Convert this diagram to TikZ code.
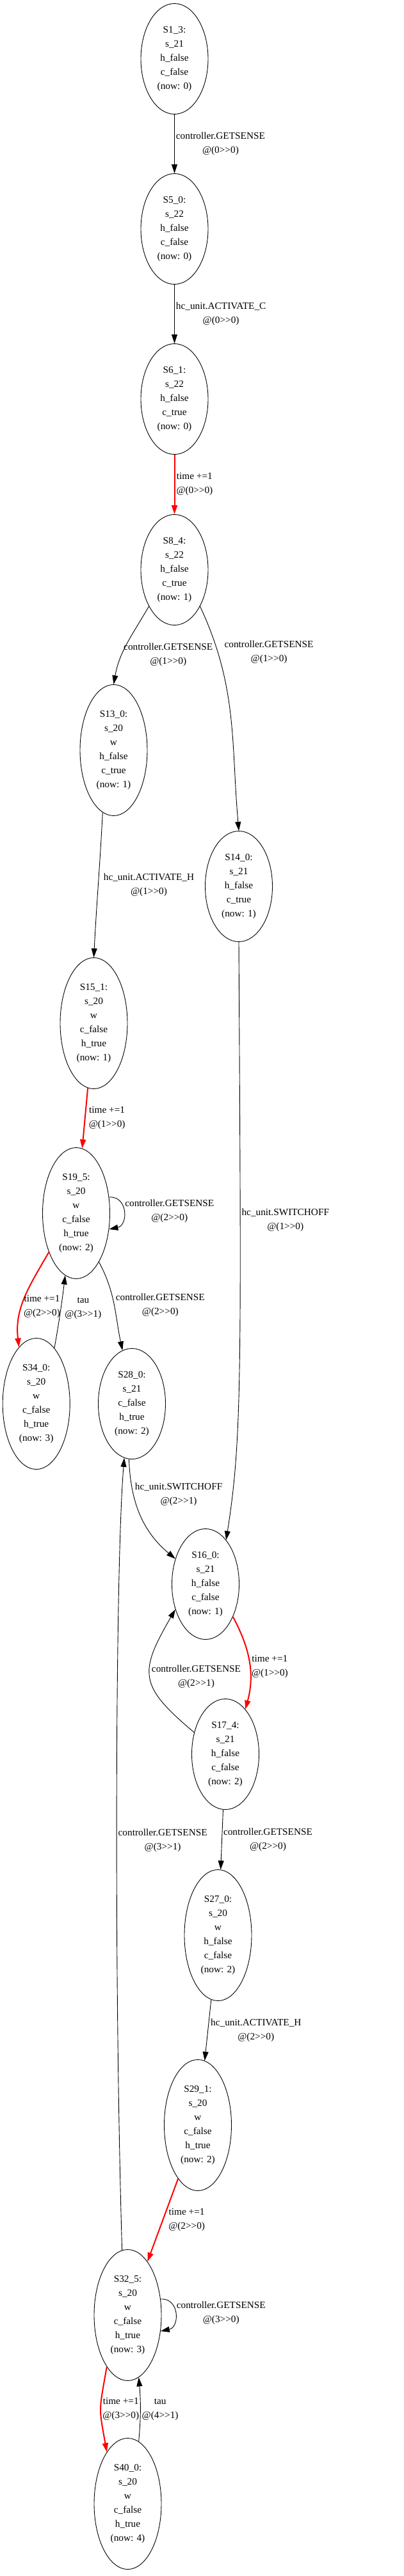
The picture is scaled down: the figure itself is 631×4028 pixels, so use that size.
\documentclass[tikz,border=0pt]{standalone}
\usepackage{fontspec}
\setmainfont{Liberation Serif}[Ligatures=TeXOff]
\usetikzlibrary{shapes.geometric,arrows.meta}

\begin{document}
\begin{tikzpicture}[x=1pt,y=1pt,>={Triangle[length=14pt,width=9pt]},
    state/.style={draw,ellipse,line width=0.9pt,inner sep=0pt,
        minimum width=105pt,minimum height=173pt,align=center,
        font=\fontsize{15.3}{22}\selectfont},
    tall/.style={minimum height=205pt},
    lbl/.style={align=center,inner sep=2pt,text=black,
        font=\fontsize{15.3}{22}\selectfont},
    trans/.style={->,line width=0.9pt},
    timed/.style={->,red,line width=2pt}]

    \fill[white] (0,0) rectangle (631,-4028);
    \useasboundingbox (0,0) rectangle (631,-4028);

    % states, top to bottom
    \node[state] (st1) at (272.5,-92) {S1\_3:\\s\_21\\h\_false\\c\_false\\(now: 0)};
    \node[state] (st5) at (272.5,-358) {S5\_0:\\s\_22\\h\_false\\c\_false\\(now: 0)};
    \node[state] (st6) at (272.5,-624) {S6\_1:\\s\_22\\h\_false\\c\_true\\(now: 0)};
    \node[state] (st8) at (272.5,-891) {S8\_4:\\s\_22\\h\_false\\c\_true\\(now: 1)};
    \node[state,tall] (st13) at (177.5,-1173) {S13\_0:\\s\_20\\w\\h\_false\\c\_true\\(now: 1)};
    \node[state] (st14) at (373,-1386) {S14\_0:\\s\_21\\h\_false\\c\_true\\(now: 1)};
    \node[state,tall] (st15) at (146.5,-1600) {S15\_1:\\s\_20\\w\\c\_false\\h\_true\\(now: 1)};
    \node[state,tall] (st19) at (119,-1897) {S19\_5:\\s\_20\\w\\c\_false\\h\_true\\(now: 2)};
    \node[state,tall] (st34) at (56.7,-2195) {S34\_0:\\s\_20\\w\\c\_false\\h\_true\\(now: 3)};
    \node[state] (st28) at (206,-2195) {S28\_0:\\s\_21\\c\_false\\h\_true\\(now: 2)};
    \node[state] (st16) at (321,-2477) {S16\_0:\\s\_21\\h\_false\\c\_false\\(now: 1)};
    \node[state] (st17) at (352,-2743) {S17\_4:\\s\_21\\h\_false\\c\_false\\(now: 2)};
    \node[state,tall] (st27) at (340.5,-3026) {S27\_0:\\s\_20\\w\\h\_false\\c\_false\\(now: 2)};
    \node[state,tall] (st29) at (309,-3323) {S29\_1:\\s\_20\\w\\c\_false\\h\_true\\(now: 2)};
    \node[state,tall] (st32) at (199.5,-3620) {S32\_5:\\s\_20\\w\\c\_false\\h\_true\\(now: 3)};
    \node[state,tall] (st40) at (199.5,-3915) {S40\_0:\\s\_20\\w\\c\_false\\h\_true\\(now: 4)};

    % transitions
    \draw[trans] (st1) -- (st5) node[lbl,midway,right] {controller.GETSENSE\\@(0>>0)};
    \draw[trans] (st5) -- (st6) node[lbl,midway,right] {hc\_unit.ACTIVATE\_C\\@(0>>0)};
    \draw[timed] (st6) -- (st8) node[lbl,midway,right] {time +=1\\@(0>>0)};
    \draw[trans] (st8.-125) to[out=-120,in=80]
        node[lbl,pos=0.65,right] {controller.GETSENSE\\@(1>>0)} (st13.north);
    \draw[trans] (st8.-55) to[out=-65,in=95]
        node[lbl,pos=0.2,right=8pt] {controller.GETSENSE\\@(1>>0)} (st14.north);
    \draw[trans] (st13.-100) to[out=-93,in=87]
        node[lbl,midway,right=6pt] {hc\_unit.ACTIVATE\_H\\@(1>>0)} (st15.north);
    \draw[timed] (st15) -- (st19) node[lbl,midway,right=3pt] {time +=1\\@(1>>0)};
    \draw[trans] (st19.26) .. controls +(30,2) and +(30,6) .. (st19.-26)
        node[lbl,pos=0.5,right] {controller.GETSENSE\\@(2>>0)};
    \draw[timed] (st19.-125) to[out=-120,in=97]
        node[lbl,pos=0.6,right] {time +=1\\@(2>>0)} (st34.107);
    \draw[trans] (st34.72) to[out=80,in=-97]
        node[lbl,pos=0.55,right=4pt] {tau\\@(3>>1)} (st19.-100);
    \draw[trans] (st19.-65) to[out=-62,in=102]
        node[lbl,pos=0.5,right] {controller.GETSENSE\\@(2>>0)} (st28.100);
    \draw[trans] (st14.south) .. controls (377,-2150) and (378,-2250) .. (st16.65)
        node[lbl,pos=0.27,right] {hc\_unit.SWITCHOFF\\@(1>>0)};
    \draw[trans] (st28.-93) to[out=-88,in=140]
        node[lbl,pos=0.3,right] {hc\_unit.SWITCHOFF\\@(2>>1)} (st16.140);
    \draw[timed] (st16.-50) to[out=-62,in=75]
        node[lbl,pos=0.55,right] {time +=1\\@(1>>0)} (st17.66);
    \draw[trans] (st17.145) to[out=140,in=-120,looseness=1.5]
        node[lbl,pos=0.5,right] {controller.GETSENSE\\@(2>>1)} (st16.-140);
    \draw[trans] (st17) -- (st27) node[lbl,midway,right] {controller.GETSENSE\\@(2>>0)};
    \draw[trans] (st27) -- (st29) node[lbl,midway,right=2pt] {hc\_unit.ACTIVATE\_H\\@(2>>0)};
    \draw[timed] (st29) -- (st32) node[lbl,midway,right=6pt] {time +=1\\@(2>>0)};
    \draw[trans] (st32.95) .. controls (178,-3100) and (180,-2450) .. (st28.-98)
        node[lbl,pos=0.45,right] {controller.GETSENSE\\@(3>>1)};
    \draw[trans] (st32.26) .. controls +(30,2) and +(30,6) .. (st32.-26)
        node[lbl,pos=0.5,right] {controller.GETSENSE\\@(3>>0)};
    \draw[timed] (st32.-112) to[out=-100,in=100,looseness=1.4]
        node[lbl,pos=0.5,right] {time +=1\\@(3>>0)} (st40.112);
    \draw[trans] (st40.80) to[out=85,in=-85]
        node[lbl,pos=0.5,right] {tau\\@(4>>1)} (st32.-80);
\end{tikzpicture}
\end{document}
